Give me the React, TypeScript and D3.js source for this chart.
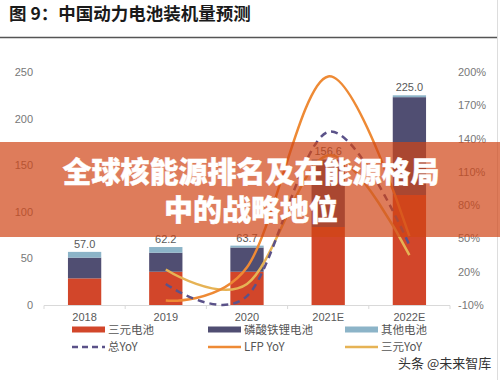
import React from "react";
import * as d3 from "d3";

const categories = ["2018", "2019", "2020", "2021E", "2022E"];
const ternary = [28.6, 35.7, 35.7, 83.7, 118.0];
const lfp = [22.2, 20.4, 26.0, 71.9, 105.0];
const other = [6.2, 6.1, 2.0, 1.0, 2.0];
const totals = ["57.0", "62.2", "63.7", "156.6", "225.0"];
const yoyCats = ["2019", "2020", "2021E", "2022E"];
const totalYoY = [9, -2, 146, 44];
const lfpYoY = [-6, 24, 196, 52];
const ternaryYoY = [22, 9, 125, 35];
const leftTicks = [0, 50, 100, 150, 200, 250];
const rightTicks = [-10, 20, 50, 80, 110, 140, 170, 200];
const seriesNames = ["三元电池", "磷酸铁锂电池", "其他电池"];
const lineNames = ["总YoY", "LFP YoY", "三元YoY"];

const C_RED = "#D2462A";
const C_PUR = "#504E72";
const C_BLUE = "#8CB4C8";
const C_DASH = "#5B5289";
const C_ORANGE = "#EE8A35";
const C_GOLD = "#E6B355";

export default function App() {
  const x = d3.scaleBand<string>().domain(categories).range([44, 450]).paddingInner(0.59).paddingOuter(0.295);
  const yL = d3.scaleLinear().domain([0, 250]).range([305, 72]);
  const yR = d3.scaleLinear().domain([-10, 200]).range([305, 72]);
  const bw = x.bandwidth();
  const cx = (c: string) => (x(c) as number) + bw / 2;

  const stack = d3.stack<number>().keys(["t", "l", "o"] as any).value((i: number, k: string) =>
    k === "t" ? ternary[i] : k === "l" ? lfp[i] : other[i]
  );
  const stacked = stack(categories.map((_, i) => i) as any);
  const colors = [C_RED, C_PUR, C_BLUE];

  const line = d3
    .line<number>()
    .x((_, i) => cx(yoyCats[i]))
    .y((d) => yR(d))
    .curve(d3.curveCardinal.tension(0));

  const font = "'Liberation Sans', Arial, sans-serif";
  const cjk = "'Noto Sans CJK SC', sans-serif";
  const boundaries = d3.range(categories.length + 1).map((i) => 44 + x.step() * i);

  return (
    <div style={{ position: "absolute", left: 0, top: 0 }}>
      <svg width={500} height={380} style={{ display: "block", background: "#fff" }}>
        <text x={9} y={20} fontFamily={cjk} fontWeight={700} fontSize={17.5} fill="#1a1a1a">
          图 9：中国动力电池装机量预测
        </text>
        <line x1={0} x2={497} y1={37.5} y2={37.5} stroke="#555" strokeWidth={1.5} />
        <line x1={497.5} x2={497.5} y1={0} y2={380} stroke="#ddd" strokeWidth={1} />

        {leftTicks.map((t) => (
          <text key={t} x={33} y={yL(t) + 4} textAnchor="end" fontFamily={font} fontSize={11} fill="#777">
            {t}
          </text>
        ))}
        {rightTicks.map((t) => (
          <text key={t} x={458} y={yR(t) + 4} fontFamily={font} fontSize={11} fill="#777">
            {t}%
          </text>
        ))}

        <line x1={44} x2={450} y1={305.5} y2={305.5} stroke="#d9d9d9" strokeWidth={1} />
        {boundaries.map((b, i) => (
          <line key={i} x1={b} x2={b} y1={305.5} y2={309} stroke="#d9d9d9" strokeWidth={1} />
        ))}

        {stacked.map((s, si) =>
          s.map((d, i) => (
            <rect
              key={si + "-" + i}
              x={x(categories[i])}
              y={yL(d[1])}
              width={bw}
              height={yL(d[0]) - yL(d[1])}
              fill={colors[si]}
            />
          ))
        )}
        {categories.map((c, i) => (
          <text key={c} x={cx(c)} y={yL(ternary[i] + lfp[i] + other[i]) - 4} textAnchor="middle" fontFamily={font} fontSize={11} fill="#595959">
            {totals[i]}
          </text>
        ))}
        {categories.map((c) => (
          <text key={c} x={cx(c)} y={320.5} textAnchor="middle" fontFamily={font} fontSize={11} fill="#595959">
            {c}
          </text>
        ))}

        <path d={line(ternaryYoY) || ""} fill="none" stroke={C_GOLD} strokeWidth={2.5} />
        <path d={line(lfpYoY) || ""} fill="none" stroke={C_ORANGE} strokeWidth={2.5} />
        <path d={line(totalYoY) || ""} fill="none" stroke={C_DASH} strokeWidth={2.5} strokeDasharray="7,5" />

        {/* legend */}
        {seriesNames.map((n, i) => {
          const lx = [72, 208, 345][i];
          return (
            <g key={n}>
              <rect x={lx} y={326.5} width={33} height={6} fill={colors[i]} />
              <text x={lx + 36} y={334} fontFamily={cjk} fontSize={11.5} fill="#555">
                {n}
              </text>
            </g>
          );
        })}
        {lineNames.map((n, i) => {
          const lx = [72, 208, 345][i];
          const col = [C_DASH, C_ORANGE, C_GOLD][i];
          return (
            <g key={n}>
              <line x1={lx} x2={lx + 33} y1={347} y2={347} stroke={col} strokeWidth={2.5} strokeDasharray={i === 0 ? "6,4" : undefined} />
              <text x={lx + 36} y={351} fontFamily={cjk} fontSize={11.5} fill="#555">
                {n}
              </text>
            </g>
          );
        })}

        {/* overlay banner */}
        <rect x={0} y={142} width={500} height={95} fill="rgb(208,69,22)" fillOpacity={0.7} />
        <g fontFamily={cjk} fontWeight={900} fontSize={29} fill="#fff" stroke="#fff" strokeWidth={0.4} textAnchor="middle">
          <text x={251} y={183}>全球核能源排名及在能源格局</text>
          <text x={251} y={221}>中的战略地位</text>
        </g>

        <text x={398} y={368} fontFamily={cjk} fontSize={13} fill="#333">
          头条 @未来智库
        </text>
      </svg>
    </div>
  );
}
